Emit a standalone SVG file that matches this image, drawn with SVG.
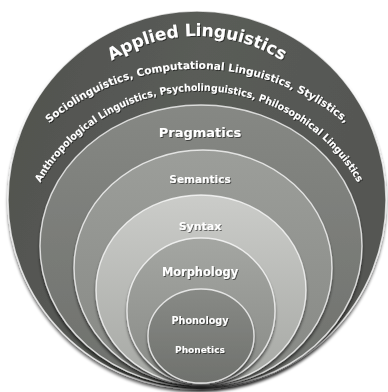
<svg xmlns="http://www.w3.org/2000/svg" xmlns:xlink="http://www.w3.org/1999/xlink" width="388" height="392" viewBox="0 0 388 392">
<defs>
<style>
.lbl{font-family:"DejaVu Sans","Liberation Sans",sans-serif;font-weight:bold;fill:#ffffff;text-anchor:middle}
.ring{stroke:#ffffff;stroke-opacity:0.75;stroke-width:1.4}
</style>
<filter id="sh" x="-10%" y="-10%" width="120%" height="125%">
<feGaussianBlur in="SourceAlpha" stdDeviation="1.6"/>
<feOffset dy="2.5" result="b"/>
<feComponentTransfer><feFuncA type="linear" slope="0.6"/></feComponentTransfer>
<feMerge><feMergeNode/><feMergeNode in="SourceGraphic"/></feMerge>
</filter>
<filter id="tsh" x="-5%" y="-20%" width="110%" height="140%">
<feGaussianBlur in="SourceAlpha" stdDeviation="0.6"/>
<feOffset dx="0.6" dy="0.8"/>
<feComponentTransfer><feFuncA type="linear" slope="0.5"/></feComponentTransfer>
<feMerge><feMergeNode/><feMergeNode in="SourceGraphic"/></feMerge>
</filter>
<linearGradient id="g1" x1="0" y1="0" x2="1" y2="0.3"><stop offset="0" stop-color="#4f514d"/><stop offset="0.5" stop-color="#5a5c58"/><stop offset="1" stop-color="#545652"/></linearGradient>
<linearGradient id="g2" x1="0" y1="0" x2="0" y2="1"><stop offset="0" stop-color="#868884"/><stop offset="1" stop-color="#6e706c"/></linearGradient>
<linearGradient id="g3" x1="0" y1="0" x2="0" y2="1"><stop offset="0" stop-color="#9c9e9a"/><stop offset="1" stop-color="#868884"/></linearGradient>
<linearGradient id="g4" x1="0" y1="0" x2="0" y2="1"><stop offset="0" stop-color="#cbccc9"/><stop offset="1" stop-color="#a6a8a4"/></linearGradient>
<linearGradient id="g5" x1="0" y1="0" x2="0" y2="1"><stop offset="0" stop-color="#a4a6a2"/><stop offset="1" stop-color="#888a86"/></linearGradient>
<linearGradient id="g6" x1="0" y1="0" x2="0" y2="1"><stop offset="0" stop-color="#888a86"/><stop offset="1" stop-color="#6f716d"/></linearGradient>
<path id="arc1" d="M 47.6,140.6 A 159,159 0 0 1 346.4,140.6"/>
<path id="arc2" d="M -17.3,219 A 228,228 0 0 1 411.3,219"/>
<path id="arc3" d="M 22.2,226.6 A 183,183 0 0 1 375.8,226.6"/>
</defs>
<g id="applied-linguistics">
<ellipse cx="197" cy="200" rx="189" ry="189" fill="url(#g1)" class="ring" filter="url(#sh)"/>
<g filter="url(#tsh)">
<text class="lbl" font-size="17"><textPath xlink:href="#arc1" startOffset="50%" textLength="180" lengthAdjust="spacing">Applied Linguistics</textPath></text>
<text class="lbl" font-size="10.5"><textPath xlink:href="#arc2" startOffset="50%" textLength="322" lengthAdjust="spacingAndGlyphs">Sociolinguistics, Computational Linguistics, Stylistics,</textPath></text>
<text class="lbl" font-size="10"><textPath xlink:href="#arc3" startOffset="50%" textLength="384" lengthAdjust="spacingAndGlyphs">Anthropological Linguistics, Psycholinguistics, Philosophical Linguistics</textPath></text>
</g>
</g>
<g id="pragmatics">
<ellipse cx="201" cy="246" rx="161" ry="141" fill="url(#g2)" class="ring" filter="url(#sh)"/>
<text class="lbl" x="200" y="137" font-size="13" filter="url(#tsh)">Pragmatics</text>
</g>
<g id="semantics">
<ellipse cx="203" cy="268" rx="129" ry="118" fill="url(#g3)" class="ring" filter="url(#sh)"/>
<text class="lbl" x="200" y="183" font-size="10.5" filter="url(#tsh)">Semantics</text>
</g>
<g id="syntax">
<ellipse cx="201" cy="290" rx="105" ry="95" fill="url(#g4)" class="ring" filter="url(#sh)"/>
<text class="lbl" x="200" y="230" font-size="11" filter="url(#tsh)">Syntax</text>
</g>
<g id="morphology">
<ellipse cx="201" cy="311" rx="74" ry="73" fill="url(#g5)" class="ring" filter="url(#sh)"/>
<text class="lbl" x="200" y="276" font-size="11.4" filter="url(#tsh)">Morphology</text>
</g>
<g id="phonology">
<ellipse cx="201" cy="336" rx="53" ry="47" fill="url(#g6)" class="ring" filter="url(#sh)"/>
<text class="lbl" x="200" y="324" font-size="9.6" filter="url(#tsh)">Phonology</text>
<text class="lbl" x="200" y="353" font-size="9" filter="url(#tsh)">Phonetics</text>
</g>
<g id="connectors"/>
</svg>
